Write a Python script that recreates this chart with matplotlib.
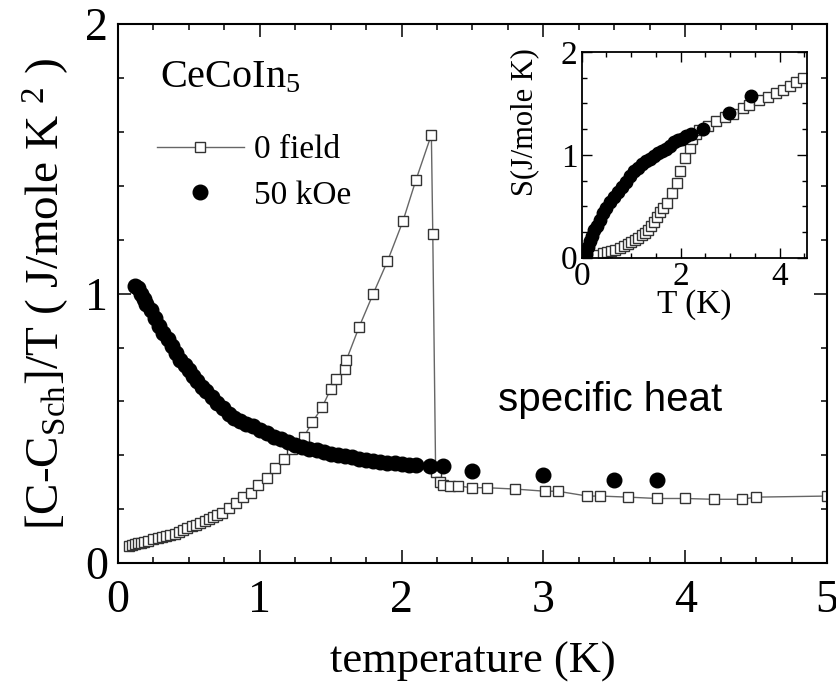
import matplotlib
matplotlib.use("Agg")
import matplotlib.pyplot as plt
from matplotlib.ticker import MultipleLocator

plt.rcParams['font.family'] = ['Liberation Serif', 'DejaVu Serif']
plt.rcParams['mathtext.fontset'] = 'custom'
plt.rcParams['mathtext.rm'] = 'Liberation Serif'
plt.rcParams['mathtext.it'] = 'Liberation Serif:italic'

# 0 field, C/T vs T (main panel)
t0 = [0.08, 0.10, 0.12, 0.14, 0.16, 0.18, 0.21, 0.25, 0.28, 0.31, 0.34, 0.37,
      0.40, 0.43, 0.46, 0.49, 0.52, 0.55, 0.58, 0.61, 0.64, 0.67, 0.70, 0.73,
      0.78, 0.83, 0.88, 0.94, 0.99, 1.05, 1.11, 1.17, 1.23, 1.31, 1.37, 1.44,
      1.50, 1.54, 1.60, 1.61, 1.70, 1.80, 1.90, 2.01, 2.10, 2.21, 2.22, 2.24,
      2.27, 2.29, 2.34, 2.40, 2.50, 2.60, 2.80, 3.01, 3.10, 3.31, 3.40, 3.60,
      3.80, 4.00, 4.20, 4.40, 4.50, 5.00]
c0 = [0.065, 0.068, 0.070, 0.073, 0.076, 0.079, 0.084, 0.089, 0.093, 0.097,
      0.101, 0.105, 0.110, 0.116, 0.123, 0.130, 0.137, 0.143, 0.148, 0.155,
      0.163, 0.170, 0.178, 0.188, 0.204, 0.223, 0.245, 0.260, 0.289, 0.315,
      0.353, 0.386, 0.423, 0.468, 0.523, 0.579, 0.646, 0.683, 0.720, 0.753,
      0.876, 1.00, 1.12, 1.27, 1.42, 1.59, 1.22, 0.34, 0.30, 0.29, 0.286,
      0.286, 0.280, 0.280, 0.275, 0.267, 0.267, 0.249, 0.249, 0.245, 0.240,
      0.240, 0.237, 0.237, 0.245, 0.249]

# 50 kOe, C/T vs T (main panel)
t50 = [0.12, 0.14, 0.16, 0.18, 0.20, 0.23, 0.26, 0.29, 0.32, 0.35, 0.38, 0.41,
       0.44, 0.47, 0.50, 0.53, 0.56, 0.59, 0.62, 0.66, 0.70, 0.74, 0.78, 0.82,
       0.86, 0.90, 0.95, 1.00, 1.05, 1.10, 1.15, 1.20, 1.25, 1.30, 1.35, 1.40,
       1.45, 1.50, 1.55, 1.60, 1.65, 1.70, 1.75, 1.80, 1.85, 1.90, 1.95, 2.00,
       2.05, 2.10, 2.20, 2.29, 2.50, 3.00, 3.50, 3.80]
c50 = [1.03, 1.02, 1.00, 0.98, 0.96, 0.94, 0.91, 0.88, 0.855, 0.83, 0.805,
       0.78, 0.755, 0.735, 0.715, 0.695, 0.675, 0.655, 0.64, 0.615, 0.595,
       0.575, 0.555, 0.54, 0.528, 0.518, 0.508, 0.495, 0.482, 0.47, 0.46,
       0.45, 0.44, 0.432, 0.425, 0.42, 0.412, 0.406, 0.401, 0.397, 0.393,
       0.388, 0.383, 0.38, 0.377, 0.373, 0.37, 0.367, 0.366, 0.364, 0.362,
       0.36, 0.343, 0.327, 0.31, 0.308]

# entropy (inset)
ts0 = [0.12, 0.20, 0.30, 0.43, 0.52, 0.60, 0.68, 0.77, 0.85, 0.93, 1.00, 1.07,
       1.14, 1.21, 1.28, 1.34, 1.40, 1.47, 1.52, 1.58, 1.65, 1.72, 1.82, 1.92,
       1.98, 2.08, 2.18, 2.22, 2.30, 2.38, 2.55, 2.72, 2.90, 3.05, 3.25, 3.39,
       3.58, 3.76, 3.92, 4.06, 4.20, 4.34, 4.47]
s0 = [0.01, 0.02, 0.03, 0.05, 0.06, 0.07, 0.08, 0.09, 0.11, 0.13, 0.15, 0.17,
      0.195, 0.22, 0.245, 0.27, 0.31, 0.35, 0.40, 0.44, 0.48, 0.53, 0.63, 0.73,
      0.84, 0.97, 1.07, 1.15, 1.20, 1.24, 1.28, 1.33, 1.37, 1.40, 1.45, 1.48,
      1.53, 1.56, 1.60, 1.63, 1.67, 1.71, 1.75]
ts50 = [0.05, 0.08, 0.12, 0.16, 0.20, 0.25, 0.30, 0.36, 0.43, 0.50, 0.58, 0.66,
        0.74, 0.82, 0.90, 0.98, 1.06, 1.14, 1.22, 1.30, 1.38, 1.46, 1.54, 1.62,
        1.70, 1.78, 1.86, 1.94, 2.02, 2.10, 2.20, 2.46, 2.97, 3.43]
s50 = [0.00, 0.04, 0.10, 0.16, 0.21, 0.27, 0.31, 0.37, 0.43, 0.48, 0.54, 0.59,
       0.64, 0.69, 0.74, 0.79, 0.84, 0.87, 0.91, 0.94, 0.96, 0.99, 1.02, 1.04,
       1.06, 1.09, 1.12, 1.14, 1.15, 1.18, 1.20, 1.25, 1.41, 1.57]

fig = plt.figure(figsize=(8.37, 6.91), dpi=100)
ax = fig.add_axes([0.141, 0.185, 0.847, 0.780])

ax.plot(t0, c0, '-', color='#666666', lw=1.0, marker='s', ms=7.5,
        mfc='white', mec='#333333', mew=1.0, label='0 field')
ax.plot(t50, c50, 'o', color='black', ms=10.5, label='50 kOe')

ax.set_xlim(0, 5)
ax.set_ylim(0, 2)
ax.xaxis.set_major_locator(MultipleLocator(1))
ax.xaxis.set_minor_locator(MultipleLocator(0.25))
ax.yaxis.set_major_locator(MultipleLocator(1))
ax.yaxis.set_minor_locator(MultipleLocator(0.2))
ax.tick_params(which='both', direction='in', top=True, right=True, width=1.1)
ax.tick_params(which='major', length=9.5, labelsize=33)
ax.tick_params(which='minor', length=4.5)
ax.tick_params(axis='x', pad=12)
ax.tick_params(axis='y', pad=7)
for s in ax.spines.values():
    s.set_linewidth(1.5)

ax.set_xlabel('temperature (K)', fontsize=32, labelpad=14)
ax.set_ylabel(r'[C-C$_{\mathrm{Sch}}$]/T ( J/mole K $^{2}$ )', fontsize=34,
              labelpad=10)

ax.text(0.059, 0.883, r'CeCoIn$_{5}$', transform=ax.transAxes, fontsize=29)
ax.text(0.536, 0.302, 'specific heat', transform=ax.transAxes, fontsize=29,
        family=['Liberation Sans'], va='center')

ax.legend(loc='upper left', bbox_to_anchor=(0.055, 0.795), frameon=False,
          fontsize=24, handlelength=2.6, handletextpad=0.3, labelspacing=0.45,
          borderpad=0, borderaxespad=0)

ins = fig.add_axes([0.695, 0.627, 0.269, 0.298])
ins.plot(ts0, s0, 's', ms=7.5, mfc='white', mec='#333333', mew=1.0)
ins.plot(ts50, s50, 'o', color='black', ms=9)
ins.set_xlim(0, 4.55)
ins.set_ylim(0, 2)
ins.xaxis.set_major_locator(MultipleLocator(2))
ins.xaxis.set_minor_locator(MultipleLocator(0.5))
ins.yaxis.set_major_locator(MultipleLocator(1))
ins.yaxis.set_minor_locator(MultipleLocator(0.25))
ins.tick_params(which='both', direction='in', top=True, right=True, width=1.0)
ins.tick_params(which='major', length=7, labelsize=24, pad=3)
ins.tick_params(which='minor', length=3.5)
for s in ins.spines.values():
    s.set_linewidth(1.3)
ins.set_xlabel('T (K)', fontsize=24, labelpad=-2)
ins.set_ylabel('S(J/mole K)', fontsize=22)
ins.yaxis.set_label_coords(-0.19, 0.66)

fig.savefig('out.png', dpi=100)
